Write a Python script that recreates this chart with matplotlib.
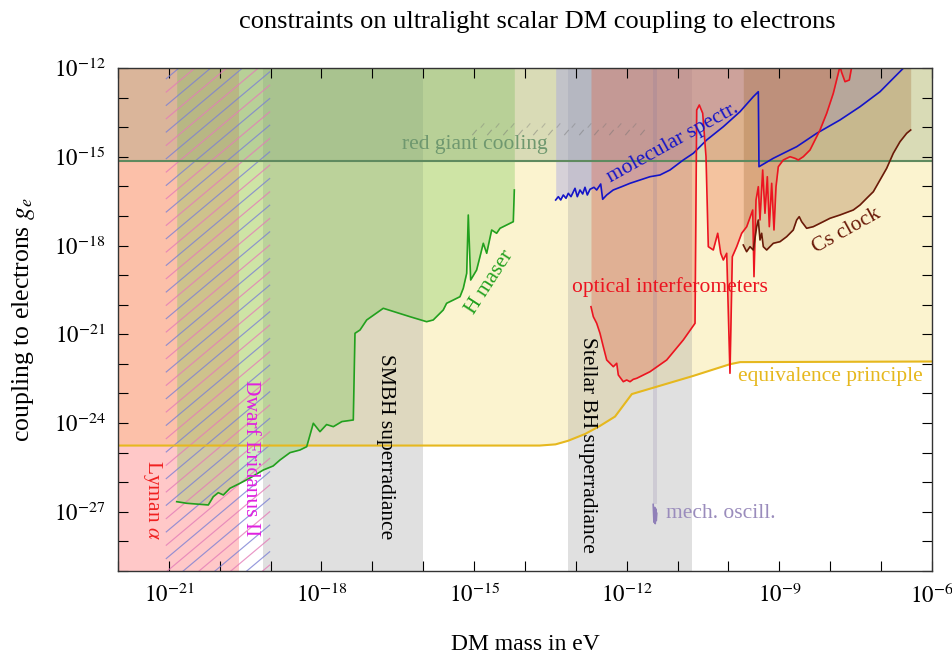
import numpy as np
import matplotlib
matplotlib.use("Agg")
import matplotlib.pyplot as plt
from matplotlib.collections import LineCollection
from matplotlib.ticker import FixedLocator, FuncFormatter, NullLocator

plt.rcParams['font.family'] = ['Liberation Serif', 'DejaVu Serif']
plt.rcParams['mathtext.fontset'] = 'stix'

# all values are log10(mass / eV) and log10(g_e)
mass_min, mass_max = -22, -6
g_min, g_max = -29, -12

# vertical bands (log10 mass)
lyman_band = (-22.0, -19.62)
eridanus_band = (-21.06, -19.01)
smbh_band = (-19.15, -16.0)
stellar_band = (-13.15, -10.72)

red_giant_g = -15.15

ep_lm = [-22.0, -13.71, -13.4, -13.155, -12.82, -12.53, -12.23, -11.90, -10.70, -9.97, -9.77, -6.0]
ep_lg = [-24.76, -24.76, -24.72, -24.60, -24.37, -24.10, -23.78, -23.02, -22.41, -22.01, -21.94, -21.92]

hmaser_lm = [-20.846, -20.650, -20.225, -20.127, -20.029, -19.930, -19.799, -19.602, -19.405,
             -19.144, -18.95, -18.816, -18.62, -18.423, -18.291, -18.161, -18.030, -17.90,
             -17.768, -17.60, -17.375, -17.342, -17.243, -17.112, -16.786, -16.261, -15.934,
             -15.804, -15.607, -15.541, -15.409, -15.278, -15.213, -15.146, -15.115, -15.068,
             -14.951, -14.885, -14.820, -14.753, -14.655, -14.558, -14.491, -14.230, -14.210]
hmaser_lg = [-26.657, -26.711, -26.768, -26.488, -26.353, -26.430, -26.204, -26.035, -25.856,
             -25.586, -25.45, -25.248, -25.00, -24.910, -24.798, -24.007, -24.291, -24.05,
             -24.122, -23.95, -23.896, -20.966, -20.854, -20.516, -20.121, -20.405, -20.574,
             -20.516, -20.178, -19.952, -19.841, -19.729, -19.445, -18.938, -16.968, -19.165,
             -18.827, -18.377, -17.924, -18.262, -17.475, -17.586, -17.417, -17.194, -16.123]

mol_lm = [-13.397, -13.345, -13.298, -13.247, -13.194, -13.149, -13.096, -13.017, -12.972,
          -12.919, -12.866, -12.821, -12.775, -12.722, -12.644, -12.591, -12.512, -12.473,
          -12.394, -12.266, -12.099, -11.936, -11.739, -11.543, -11.347, -11.150, -10.889,
          -10.692, -10.429, -10.102, -9.774, -9.513, -9.414, -9.401, -9.120, -8.792, -8.660,
          -8.266, -7.809, -7.415, -7.022, -6.761, -6.565, -6.45]
mol_lg = [-16.461, -16.349, -16.461, -16.292, -16.404, -16.235, -16.349, -16.066, -16.349,
          -16.123, -16.258, -16.032, -16.292, -16.099, -16.032, -16.123, -15.920, -16.437,
          -16.292, -16.123, -16.011, -15.897, -15.785, -15.674, -15.616, -15.447, -15.109,
          -14.883, -14.433, -13.984, -13.477, -12.970, -12.801, -15.336, -15.052, -14.771,
          -14.660, -14.207, -13.757, -13.308, -12.801, -12.348, -12.010, -11.7]

optic_lm = [-12.703, -12.657, -12.591, -12.526, -12.461, -12.394, -12.264, -12.197, -12.166,
            -12.068, -12.001, -11.936, -11.871, -11.804, -11.543, -11.215, -10.889, -10.658,
            -10.625, -10.574, -10.507, -10.442, -10.397, -10.299, -10.212, -10.153, -10.102,
            -10.035, -9.971, -9.925, -9.839, -9.741, -9.642, -9.524, -9.499, -9.459, -9.414,
            -9.381, -9.328, -9.283, -9.237, -9.198, -9.151, -9.106, -9.066, -9.021, -8.923,
            -8.791, -8.693, -8.628, -8.530, -8.398, -8.201, -8.070, -7.940, -7.842, -7.808,
            -7.779, -7.710, -7.625, -7.578, -7.553]
optic_lg = [-20.067, -20.405, -20.628, -20.966, -21.419, -21.868, -22.095, -21.980, -22.375,
            -22.602, -22.544, -22.602, -22.521, -22.487, -22.264, -21.868, -21.192, -20.628,
            -13.419, -13.250, -13.531, -14.998, -18.039, -18.151, -17.586, -18.262, -18.489,
            -18.262, -22.318, -18.377, -18.039, -17.586, -17.363, -16.799, -19.053, -16.461,
            -16.011, -17.137, -15.447, -16.910, -15.674, -17.363, -15.897, -17.475, -16.011,
            -15.336, -15.109, -14.998, -15.052, -15.109, -14.998, -14.771, -14.095, -13.531,
            -12.855, -12.179, -11.932, -12.135, -12.463, -12.406, -11.956, -11.39]

cs_lm = [-9.709, -9.644, -9.577, -9.513, -9.446, -9.414, -9.381, -9.348, -9.316, -9.250,
         -9.119, -8.988, -8.857, -8.727, -8.660, -8.610, -8.562, -8.464, -8.334, -8.137,
         -8.005, -7.809, -7.547, -7.415, -7.284, -7.153, -7.022, -6.891, -6.761, -6.629,
         -6.498, -6.419]
cs_lg = [-17.982, -18.208, -18.039, -18.151, -17.363, -17.137, -17.813, -17.586, -18.039,
         -18.151, -17.924, -17.870, -17.701, -17.475, -17.137, -17.025, -17.194, -17.417,
         -17.363, -17.194, -17.079, -16.968, -16.799, -16.630, -16.403, -16.180, -15.785,
         -15.390, -14.883, -14.491, -14.207, -14.095]

mech_lm = [-11.48, -11.465, -11.45, -11.44, -11.43, -11.42, -11.41]
mech_lg = [-26.75, -27.35, -26.85, -27.40, -26.90, -27.30, -27.05]

# faint dashes above the red giant label
dash_row1_lm = [-15.0, -14.7, -14.4, -14.1, -13.8, -13.5, -13.2, -12.9, -12.6, -12.3, -12.0, -11.7]
dash_row2_lm = [-14.85, -14.55, -14.25, -13.95, -13.65, -13.35, -13.05, -12.75, -12.45, -12.15, -11.85]
dash_row1_lg = -14.17
dash_row2_lg = -13.92


def e(v):
    return 10.0 ** np.asarray(v, dtype=float)


fig = plt.figure(figsize=(9.52, 6.64), dpi=100)
ax = fig.add_axes([0.12395, 0.14006, 0.85504, 0.75753])
ax.set_xscale('log')
ax.set_yscale('log')
ax.set_xlim(e(mass_min), e(mass_max))
ax.set_ylim(e(g_min), e(g_max))
top = e(g_max)

# fills
ax.fill_between(e(ep_lm), e(ep_lg), top, color='#f5e187', alpha=0.4, lw=0)
for band in (smbh_band, stellar_band):
    ax.axvspan(e(band[0]), e(band[1]), color='#9b9b9b', alpha=0.3, lw=0)
ax.axvspan(e(lyman_band[0]), e(lyman_band[1]), color='#ff6262', alpha=0.35, lw=0)
ax.fill_between(e(hmaser_lm), e(hmaser_lg), top, color='#7ac857', alpha=0.35, lw=0)
ax.axhspan(e(red_giant_g), top, color='#77976f', alpha=0.25, lw=0)
ax.fill_between(e(mol_lm), np.minimum(e(mol_lg), top), top, color='#a0a0e6', alpha=0.4, lw=0)
ax.fill_between(e(optic_lm), np.minimum(e(optic_lg), top), top, color='#e75632', alpha=0.3, lw=0)
ax.fill_between(e(cs_lm), e(cs_lg), top, color='#9e6732', alpha=0.3, lw=0)
ax.fill_between(e([mech_lm[0], mech_lm[-1]]), e(max(mech_lg)) * np.ones(2), top,
                color='#8070a0', alpha=0.18, lw=0)

# hatching for Dwarf Eridanus II (axes-fraction segments, clipped by the axes in y)
xa = (eridanus_band[0] - mass_min) / (mass_max - mass_min)
xb = (eridanus_band[1] - mass_min) / (mass_max - mass_min)
slope = np.tan(np.radians(40)) * 814 / 503
segs, cols = [], []
for i, y0 in enumerate(np.arange(-0.4, 1.02, 0.0265)):
    segs.append([(xa, y0), (xb, y0 + (xb - xa) * slope)])
    cols.append('#e47cb8' if i % 2 else '#7c80d4')
lc = LineCollection(segs, colors=cols, linewidths=0.85, alpha=0.8, transform=ax.transAxes)
ax.add_collection(lc)

# lines
ax.plot(e(ep_lm), e(ep_lg), color='#e6b81e', lw=1.5)
ax.axhline(e(red_giant_g), color='#5f8a5f', lw=1.5)
ax.plot(e(hmaser_lm), e(hmaser_lg), color='#22a01e', lw=1.2)
ax.plot(e(mol_lm), e(mol_lg), color='#1414c8', lw=1.2)
ax.plot(e(optic_lm), e(optic_lg), color='#ec1420', lw=1.2)
ax.plot(e(cs_lm), e(cs_lg), color='#6a1a08', lw=1.2)
ax.plot(e(mech_lm), e(mech_lg), color='#9080b8', lw=1.2)
ax.plot(e(dash_row1_lm), e(dash_row1_lg) * np.ones(len(dash_row1_lm)), ls='none',
        marker=(2, 0, -40), ms=5, mew=0.8, color='#707070', alpha=0.45)
ax.plot(e(dash_row2_lm), e(dash_row2_lg) * np.ones(len(dash_row2_lm)), ls='none',
        marker=(2, 0, -40), ms=4, mew=0.8, color='#707070', alpha=0.35)

# labels inside the plot
txt = dict(fontsize=15.5, ha='center', va='center', rotation_mode='anchor')
ax.text(e(-14.98), e(-14.60), 'red giant cooling', color='#6f986f', **txt)
ax.text(e(-11.09), e(-14.53), 'molecular spectr.', color='#1414c8', rotation=29, **txt)
ax.text(e(-14.69), e(-19.23), 'H maser', color='#22a01e', rotation=57, **txt)
ax.text(e(-11.15), e(-19.40), 'optical interferometers', color='#ec1420', **txt)
ax.text(e(-7.67), e(-17.51), 'Cs clock', color='#6a1a08', rotation=29, **txt)
ax.text(e(-8.0), e(-22.41), 'equivalence principle', color='#e6b81e', **txt)
ax.text(e(-12.78), e(-24.74), 'Stellar BH superradiance', color='black', rotation=-90, **txt)
ax.text(e(-16.75), e(-24.78), 'SMBH superradiance', color='black', rotation=-90, **txt)
ax.text(e(-19.39), e(-25.18), 'Dwarf Eridanus II', color='#e020e0', rotation=-90, **txt)
ax.text(e(-21.33), e(-26.60), r'Lyman $\alpha$', color='#f02020', rotation=-90, **txt)
ax.text(e(-11.23), e(-27.07), 'mech. oscill.', color='#9a8cbc', fontsize=15.5,
        ha='left', va='center')

# axes styling
xdec = np.arange(mass_min, mass_max + 1)
ydec = np.arange(g_min, g_max + 1)
ax.xaxis.set_major_locator(FixedLocator(e(xdec)))
ax.yaxis.set_major_locator(FixedLocator(e(ydec)))
ax.xaxis.set_minor_locator(NullLocator())
ax.yaxis.set_minor_locator(NullLocator())
fmt = FuncFormatter(lambda v, p: r'$10^{%d}$' % round(np.log10(v))
                    if round(np.log10(v)) % 3 == 0 else '')
ax.xaxis.set_major_formatter(fmt)
ax.yaxis.set_major_formatter(fmt)
ax.tick_params(direction='in', top=True, right=True, length=7, width=0.8,
               labelsize=16.5, pad=9)
for s in ax.spines.values():
    s.set_linewidth(1.0)
    s.set_color('#333333')

ax.set_xlabel('DM mass in eV', fontsize=17, labelpad=19)
ax.set_ylabel(r'coupling to electrons $g_e$', fontsize=18.5, labelpad=12)
ax.set_title('constraints on ultralight scalar DM coupling to electrons', fontsize=19,
             pad=29, x=0.515)

fig.savefig('out.png', dpi=100)
